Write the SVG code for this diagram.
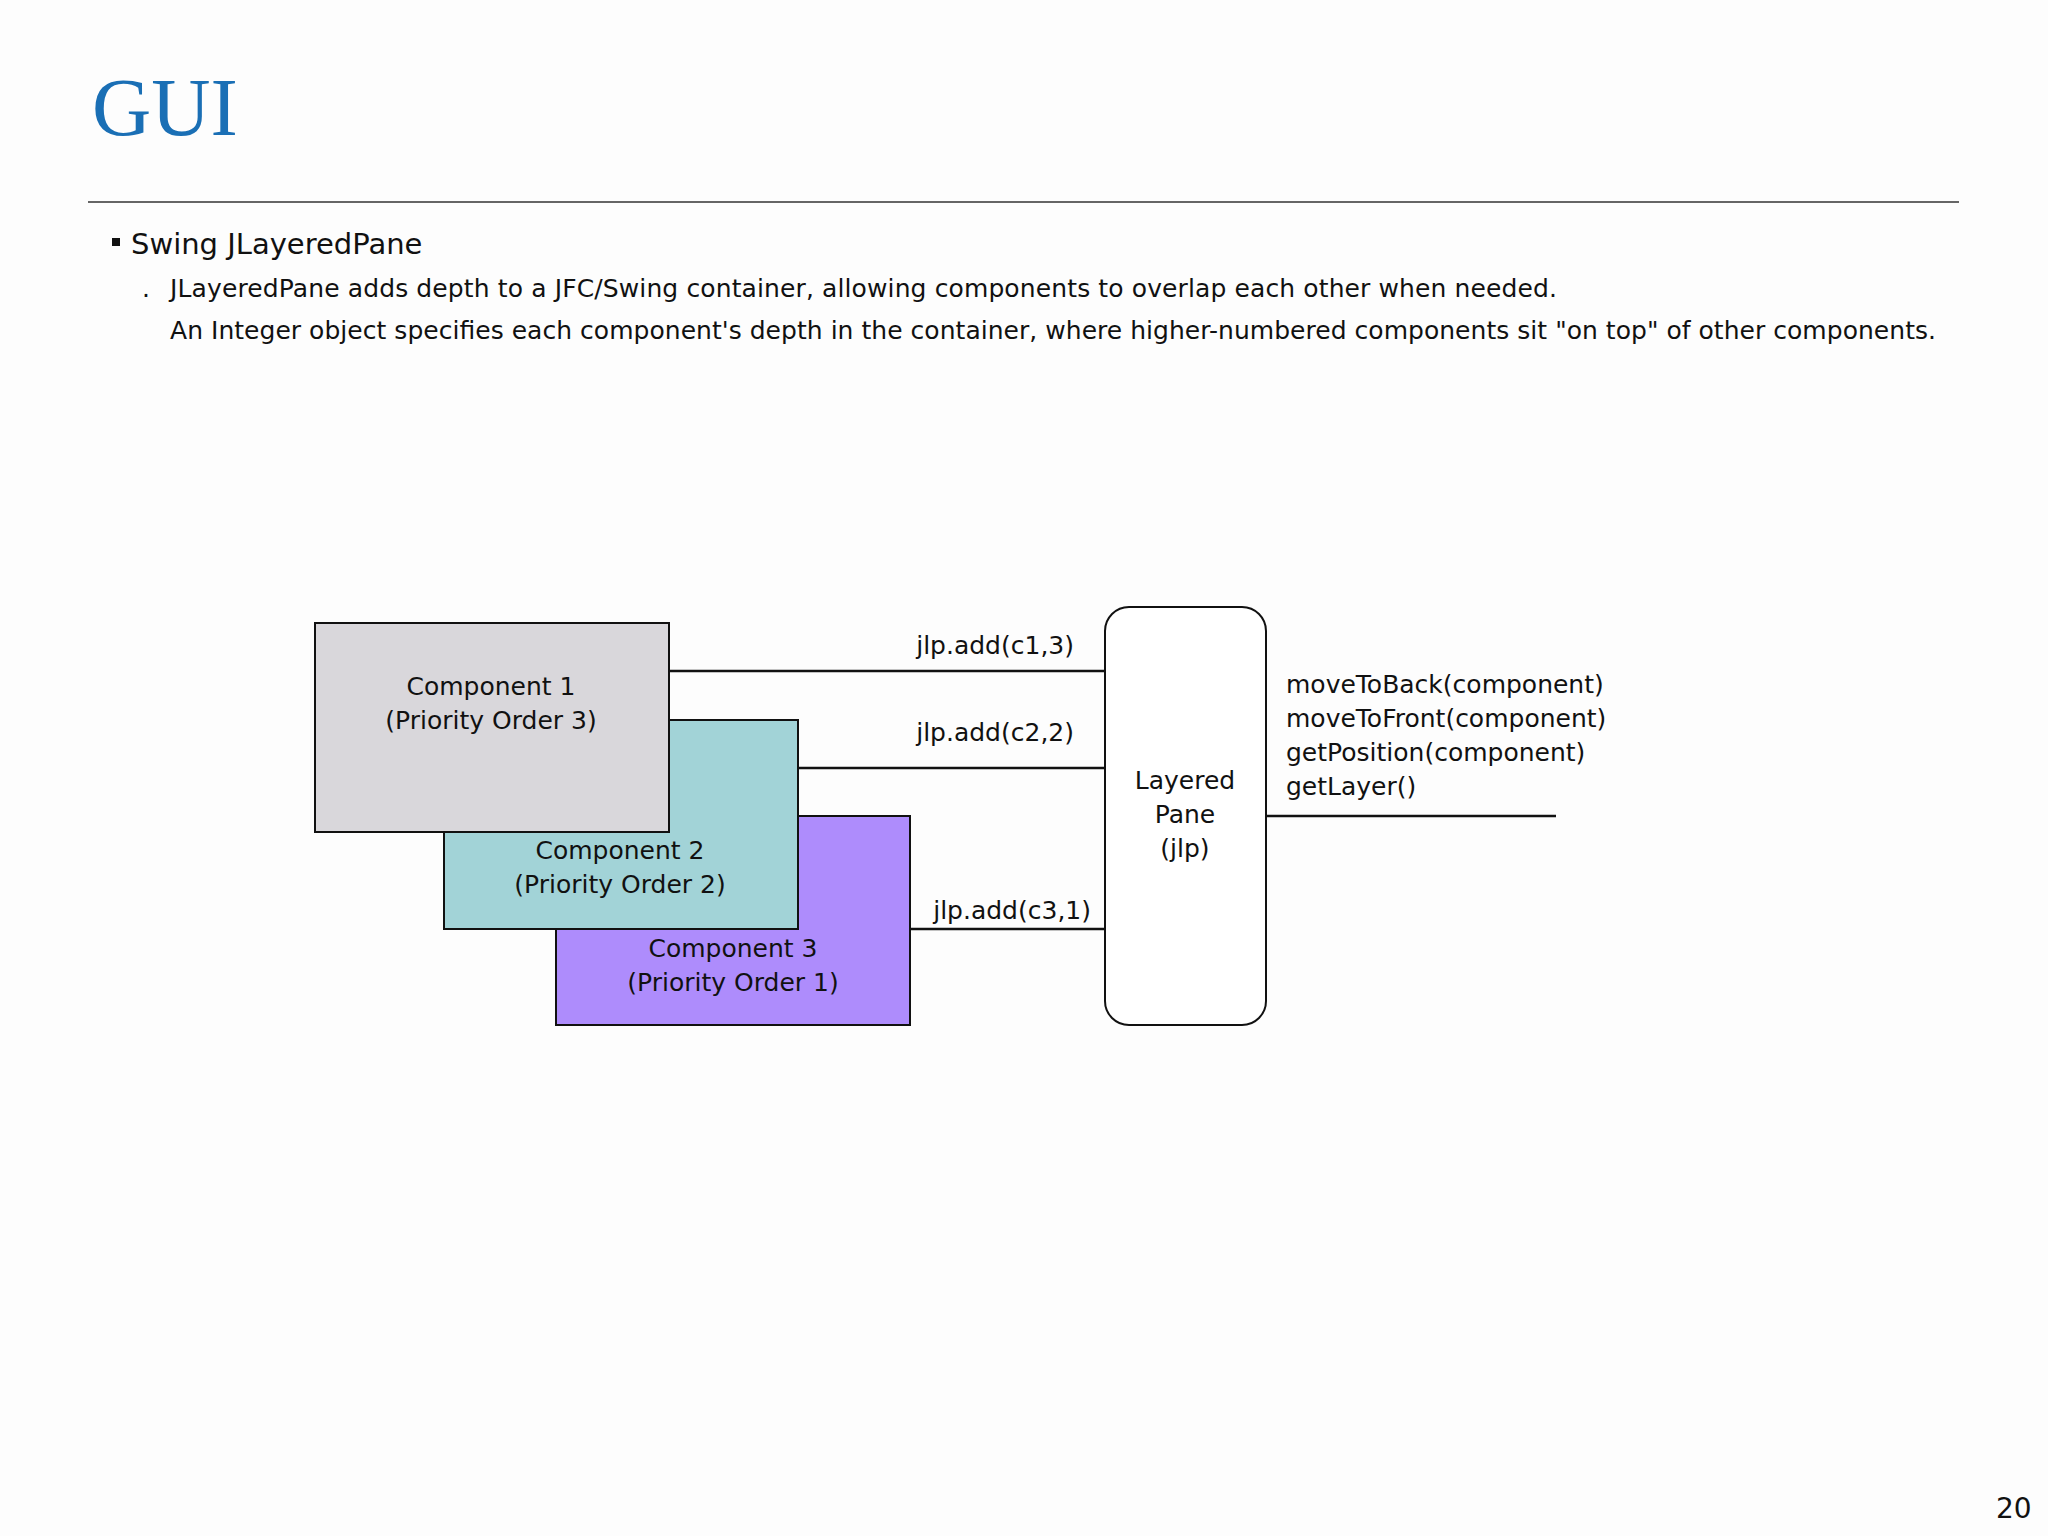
<svg xmlns="http://www.w3.org/2000/svg" width="2048" height="1536" viewBox="0 0 2048 1536">
<style>
text{font-family:"DejaVu Sans",Verdana,sans-serif;fill:#111}
.b{stroke:#111;stroke-width:2}
.c{fill:none;stroke:#111;stroke-width:2.5}
.m{font-size:25px}
.n{font-size:25px;text-anchor:middle}
</style>
<rect width="2048" height="1536" fill="#fdfdfd"/>
<text x="92" y="135" style="font-family:'Liberation Serif',serif;font-size:82px;fill:#1a6fb5">GUI</text>
<line x1="88" y1="202" x2="1959" y2="202" stroke="#666" stroke-width="2"/>
<rect x="112" y="238" width="8" height="8" fill="#111"/>
<text x="131" y="254" style="font-size:29px">Swing JLayeredPane</text>
<text x="142" y="297" style="font-size:25px">.</text>
<text x="170" y="297" style="font-size:25px" textLength="1387">JLayeredPane adds depth to a JFC/Swing container, allowing components to overlap each other when needed.</text>
<text x="170" y="339" style="font-size:25px" textLength="1766">An Integer object specifies each component's depth in the container, where higher-numbered components sit "on top" of other components.</text>
<g id="connectors">
<line class="c" x1="669" y1="671" x2="1105" y2="671"/>
<line class="c" x1="798" y1="768" x2="1105" y2="768"/>
<line class="c" x1="910" y1="929" x2="1105" y2="929"/>
<line class="c" x1="1266" y1="816" x2="1556" y2="816"/>
<text class="m" x="1074" y="654" text-anchor="end">jlp.add(c1,3)</text>
<text class="m" x="1074" y="741" text-anchor="end">jlp.add(c2,2)</text>
<text class="m" x="1091" y="919" text-anchor="end">jlp.add(c3,1)</text>
</g>
<g id="c3"><rect class="b" x="556" y="816" width="354" height="209" fill="#ae8cfc"/>
<text class="n" x="733" y="957">Component 3</text><text class="n" x="733" y="991">(Priority Order 1)</text></g>
<g id="c2"><rect class="b" x="444" y="720" width="354" height="209" fill="#a2d3d7"/>
<text class="n" x="620" y="859">Component 2</text><text class="n" x="620" y="893">(Priority Order 2)</text></g>
<g id="c1"><rect class="b" x="315" y="623" width="354" height="209" fill="#d9d7db"/>
<text class="n" x="491" y="695">Component 1</text><text class="n" x="491" y="729">(Priority Order 3)</text></g>
<g id="pane"><rect class="b" x="1105" y="607" width="161" height="418" rx="24" fill="#fff"/>
<text class="n" x="1185" y="789">Layered</text><text class="n" x="1185" y="823">Pane</text><text class="n" x="1185" y="857">(jlp)</text></g>
<g id="methods">
<text class="m" x="1286" y="693">moveToBack(component)</text>
<text class="m" x="1286" y="727">moveToFront(component)</text>
<text class="m" x="1286" y="761">getPosition(component)</text>
<text class="m" x="1286" y="795">getLayer()</text>
</g>
<text x="1996" y="1518" style="font-size:28px">20</text>
</svg>
